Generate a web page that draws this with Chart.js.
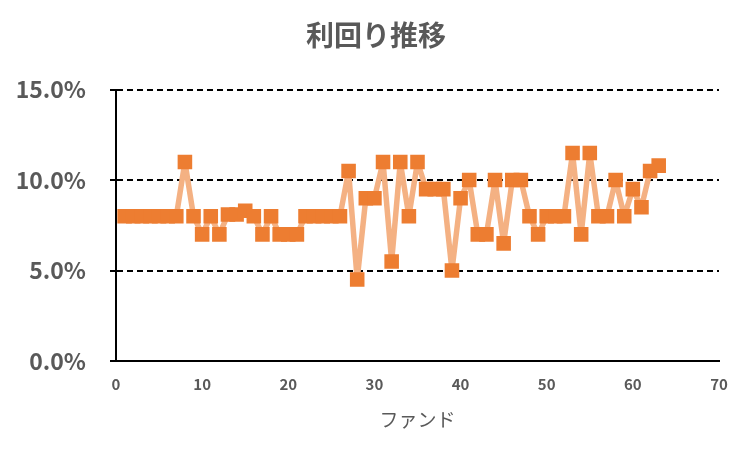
<!DOCTYPE html>
<html>
<head>
<meta charset="utf-8">
<script src="https://cdn.jsdelivr.net/npm/chart.js@4"></script>
<style>
  html, body { margin: 0; padding: 0; background: #fff; }
  #wrap { width: 752px; height: 459px; }
</style>
</head>
<body>
<div id="wrap"><canvas id="yieldChart" width="752" height="459"></canvas></div>
<script>
const fundNumbers = Array.from({ length: 63 }, (_, i) => i + 1);
const yieldPercent = [
  8, 8, 8, 8, 8, 8, 8, 11, 8, 7,
  8, 7, 8.1, 8.1, 8.3, 8, 7, 8, 7, 7,
  7, 8, 8, 8, 8, 8, 10.5, 4.5, 9, 9,
  11, 5.5, 11, 8, 11, 9.5, 9.5, 9.5, 5, 9,
  10, 7, 7, 10, 6.5, 10, 10, 8, 7, 8,
  8, 8, 11.5, 7, 11.5, 8, 8, 10, 8, 9.5,
  8.5, 10.5, 10.8
];
const yTicks = [0, 5, 10, 15];
const xTicks = [0, 10, 20, 30, 40, 50, 60, 70];

const textGray = '#595959';
const jpFont = "'Noto Sans CJK JP', 'Noto Sans', sans-serif";

const points = fundNumbers.map((x, i) => ({ x, y: yieldPercent[i] }));

new Chart(document.getElementById('yieldChart'), {
  type: 'scatter',
  data: {
    datasets: [{
      data: points,
      showLine: true,
      borderColor: '#F4B183',
      borderWidth: 5.5,
      borderJoinStyle: 'round',
      pointStyle: 'rect',
      pointRadius: 10.3,
      pointBackgroundColor: '#ED7D31',
      pointBorderWidth: 0,
      pointHoverRadius: 10.3
    }]
  },
  options: {
    responsive: false,
    animation: false,
    layout: { padding: 0 },
    plugins: {
      legend: { display: false },
      tooltip: { enabled: false },
      title: {
        display: true,
        text: '利回り推移',
        color: textGray,
        font: { family: jpFont, size: 28, weight: 'bold' },
        padding: { top: 19, bottom: 37 }
      }
    },
    scales: {
      x: {
        type: 'linear',
        min: xTicks[0],
        max: xTicks[xTicks.length - 1],
        afterBuildTicks: scale => { scale.ticks = xTicks.map(v => ({ value: v })); },
        afterFit: scale => { scale.height = 98; },
        grid: { display: false, drawTicks: false },
        border: { display: true, color: '#000', width: 2 },
        ticks: {
          color: textGray,
          padding: 14,
          font: { family: jpFont, size: 15, weight: 'bold' }
        },
        title: {
          display: true,
          text: 'ファンド',
          color: textGray,
          font: { family: jpFont, size: 19 },
          padding: { top: 6, bottom: 28 }
        }
      },
      y: {
        type: 'linear',
        min: yTicks[0],
        max: yTicks[yTicks.length - 1],
        afterBuildTicks: scale => { scale.ticks = yTicks.map(v => ({ value: v })); },
        afterFit: scale => { scale.width = 116; },
        grid: {
          color: ctx => ctx.tick && ctx.tick.value === 0 ? 'rgba(0,0,0,0)' : '#000',
          lineWidth: 2,
          tickColor: '#000',
          tickBorderDash: [],
          tickLength: 6
        },
        border: { display: true, color: '#000', width: 2, dash: [6, 4] },
        ticks: {
          color: textGray,
          padding: 24,
          font: { family: jpFont, size: 23, weight: 'bold' },
          callback: v => v.toFixed(1) + '%'
        }
      },
      // empty right-hand box so the plot ends at x=719 while the title stays centred on the canvas
      yRight: {
        type: 'linear',
        position: 'right',
        display: true,
        afterFit: scale => { scale.width = 33; },
        grid: { display: false, drawTicks: false },
        border: { display: false },
        ticks: { display: false }
      }
    }
  }
});
</script>
</body>
</html>
